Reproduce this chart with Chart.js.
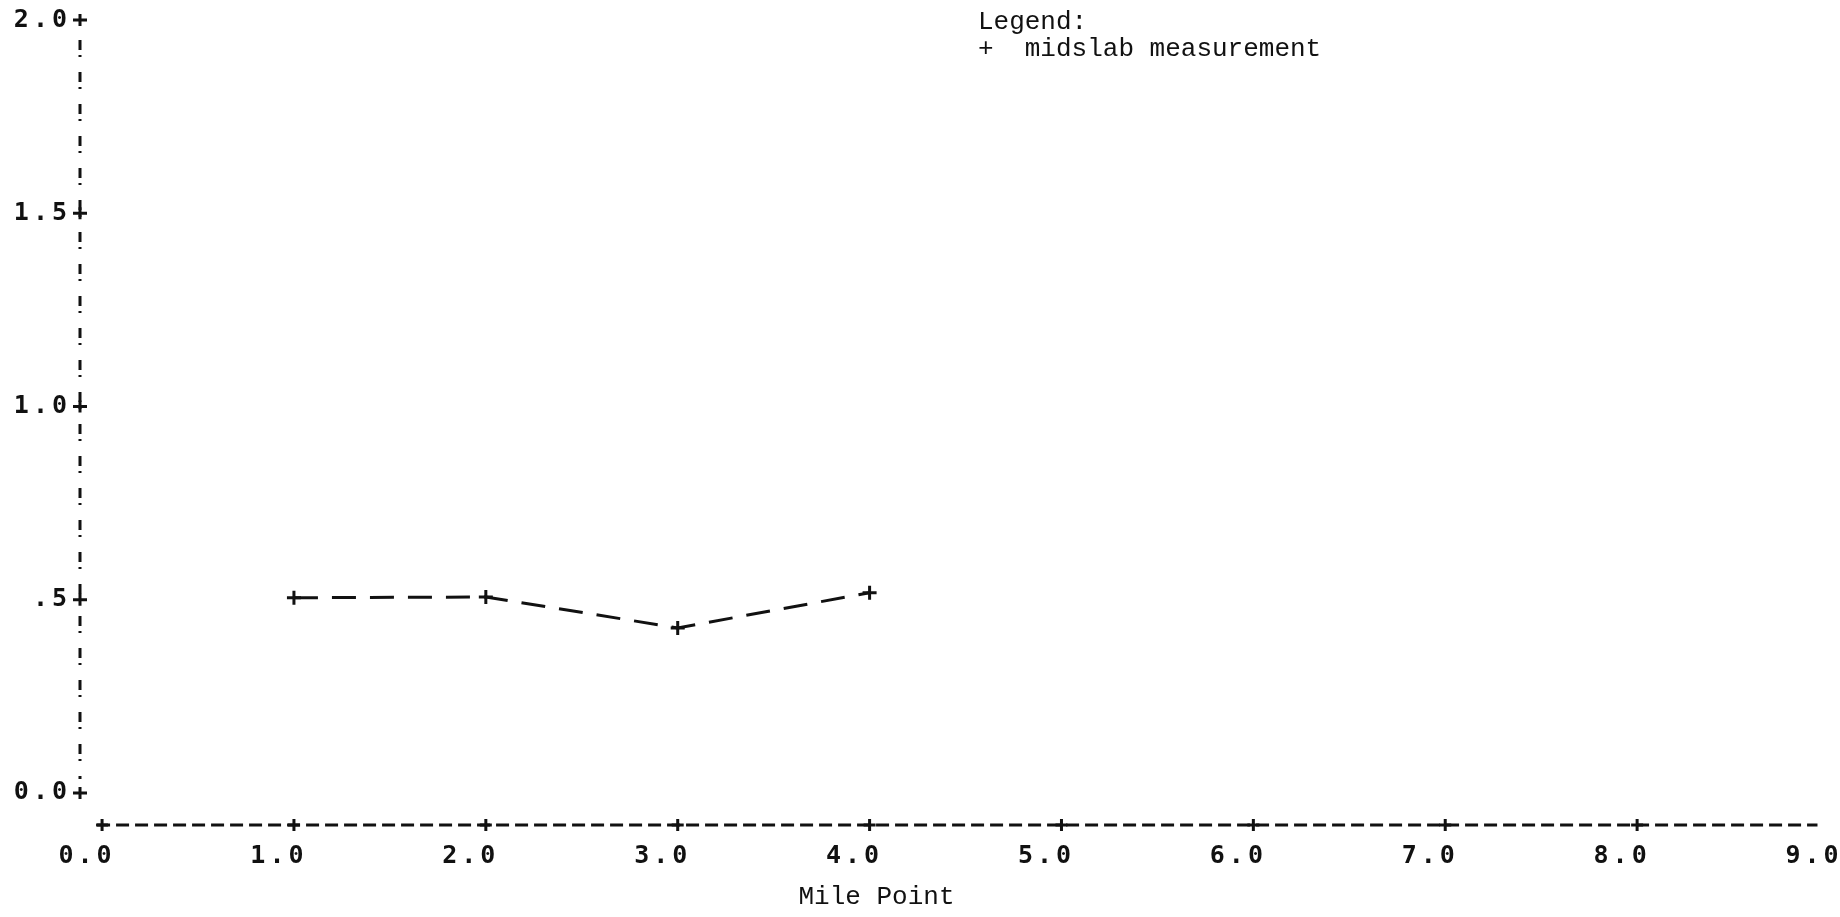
<!DOCTYPE html>
<html>
<head>
<meta charset="utf-8">
<script src="https://cdn.jsdelivr.net/npm/chart.js@4.4.1/dist/chart.umd.min.js"></script>
<style>
  html, body { margin: 0; padding: 0; background: #ffffff; }
  #wrap { position: relative; width: 1840px; height: 917px; }
</style>
</head>
<body>
<div id="wrap"><canvas id="c"></canvas></div>
<script>
// ---- data ----
const milePoints   = [1.0, 2.0, 3.0, 4.0];
const midslab      = [0.505, 0.507, 0.427, 0.518];
const xTickValues  = [0, 1, 2, 3, 4, 5, 6, 7, 8, 9];
const xTickLabels  = ['0.0', '1.0', '2.0', '3.0', '4.0', '5.0', '6.0', '7.0', '8.0', '9.0'];
const yTickValues  = [0, 0.5, 1.0, 1.5, 2.0];
const yTickLabels  = ['0.0', '.5', '1.0', '1.5', '2.0'];
const seriesName   = 'midslab measurement';
const legendTitle  = 'Legend:';
const xAxisTitle   = 'Mile Point';

// ---- axis ranges ----
const X_MIN = -0.115, X_MAX = 9.0, X_LINE_END = 8.94;
const Y_MIN = -0.083, Y_MAX = 2.0;

const INK = '#111111';
const TICK_FONT = { family: '"DejaVu Sans Mono", monospace', size: 25, weight: 'bold' };
const TEXT_FONT = '"Liberation Mono", "Courier New", monospace';

const printPlugin = {
  id: 'printPlugin',
  beforeDraw(chart) { chart.ctx.letterSpacing = '0px'; },
  beforeDatasetsDraw(chart) {
    const { ctx, chartArea, scales: { x, y } } = chart;
    ctx.save();
    ctx.strokeStyle = INK;
    ctx.lineWidth = 3;
    ctx.lineCap = 'butt';
    // y axis: dash-dot "!" line
    const ax = chartArea.left;
    ctx.setLineDash([10, 5, 2, 15]);
    ctx.beginPath();
    ctx.moveTo(ax, y.getPixelForValue(yTickValues[yTickValues.length - 1]) + 20);
    ctx.lineTo(ax, y.getPixelForValue(yTickValues[0]) - 14);
    ctx.stroke();
    ctx.setLineDash([]);
    // "+" marks at y ticks
    yTickValues.forEach(v => {
      const py = y.getPixelForValue(v);
      ctx.beginPath();
      ctx.moveTo(ax - 7, py); ctx.lineTo(ax + 7, py);
      ctx.moveTo(ax, py - 6); ctx.lineTo(ax, py + 6);
      ctx.stroke();
    });
    // x axis: dashed line
    const by = chartArea.bottom;
    ctx.setLineDash([13, 6]);
    ctx.beginPath();
    ctx.moveTo(x.getPixelForValue(xTickValues[0]) - 5, by);
    ctx.lineTo(x.getPixelForValue(X_LINE_END), by);
    ctx.stroke();
    ctx.setLineDash([]);
    xTickValues.filter(v => v < X_LINE_END).forEach(v => {
      const px = x.getPixelForValue(v);
      ctx.beginPath();
      ctx.moveTo(px - 6, by); ctx.lineTo(px + 6, by);
      ctx.moveTo(px, by - 6); ctx.lineTo(px, by + 6);
      ctx.stroke();
    });
    ctx.restore();
  },
  afterDatasetsDraw(chart) { chart.ctx.letterSpacing = '4px'; },
  afterDraw(chart) {
    const ctx = chart.ctx;
    ctx.letterSpacing = '0px';
    ctx.save();
    ctx.fillStyle = INK;
    ctx.font = '26px ' + TEXT_FONT;
    ctx.textAlign = 'left';
    ctx.textBaseline = 'middle';
    const lx = chart.width * 0.5315;
    ctx.fillText(legendTitle, lx, 22);
    ctx.fillText('+  ' + seriesName, lx, 49);
    ctx.restore();
  }
};

new Chart(document.getElementById('c'), {
  type: 'line',
  data: {
    datasets: [{
      label: seriesName,
      data: milePoints.map((m, i) => ({ x: m, y: midslab[i] })),
      borderColor: INK,
      borderWidth: 3,
      borderDash: [24, 14],
      tension: 0,
      fill: false,
      pointStyle: 'cross',
      pointRadius: 7,
      pointBorderWidth: 3,
      pointBorderColor: INK,
      pointBackgroundColor: INK
    }]
  },
  options: {
    responsive: true,
    maintainAspectRatio: false,
    animation: false,
    events: [],
    layout: { padding: { left: 0, right: 11, top: 20, bottom: 0 } },
    plugins: { legend: { display: false }, tooltip: { enabled: false }, title: { display: false } },
    scales: {
      x: {
        type: 'linear',
        min: X_MIN, max: X_MAX,
        afterBuildTicks: s => { s.ticks = xTickValues.map(v => ({ value: v })); },
        afterFit: s => { s.height = 92; s.paddingLeft = 0; s.paddingRight = 0; },
        grid: { display: false, drawTicks: false },
        border: { display: false },
        ticks: {
          z: 1,
          autoSkip: false,
          maxRotation: 0,
          color: INK,
          font: TICK_FONT,
          padding: 16,
          labelOffset: -15,
          callback: (v) => { const i = xTickValues.indexOf(v); return i >= 0 ? xTickLabels[i] : ''; }
        },
        title: {
          display: true,
          text: xAxisTitle + '\u00a0'.repeat(10),
          color: INK,
          font: { family: TEXT_FONT, size: 26 },
          padding: { top: 0, bottom: 4 }
        }
      },
      y: {
        type: 'linear',
        min: Y_MIN, max: Y_MAX,
        afterBuildTicks: s => { s.ticks = yTickValues.map(v => ({ value: v })); },
        afterFit: s => { s.width = 80; s.paddingTop = 0; s.paddingBottom = 0; },
        grid: { display: false, drawTicks: false },
        border: { display: false },
        ticks: {
          z: 1,
          autoSkip: false,
          color: INK,
          font: TICK_FONT,
          padding: 9,
          callback: (v) => { const i = yTickValues.indexOf(v); return i >= 0 ? yTickLabels[i] : ''; }
        }
      }
    }
  },
  plugins: [printPlugin]
});
</script>
</body>
</html>
